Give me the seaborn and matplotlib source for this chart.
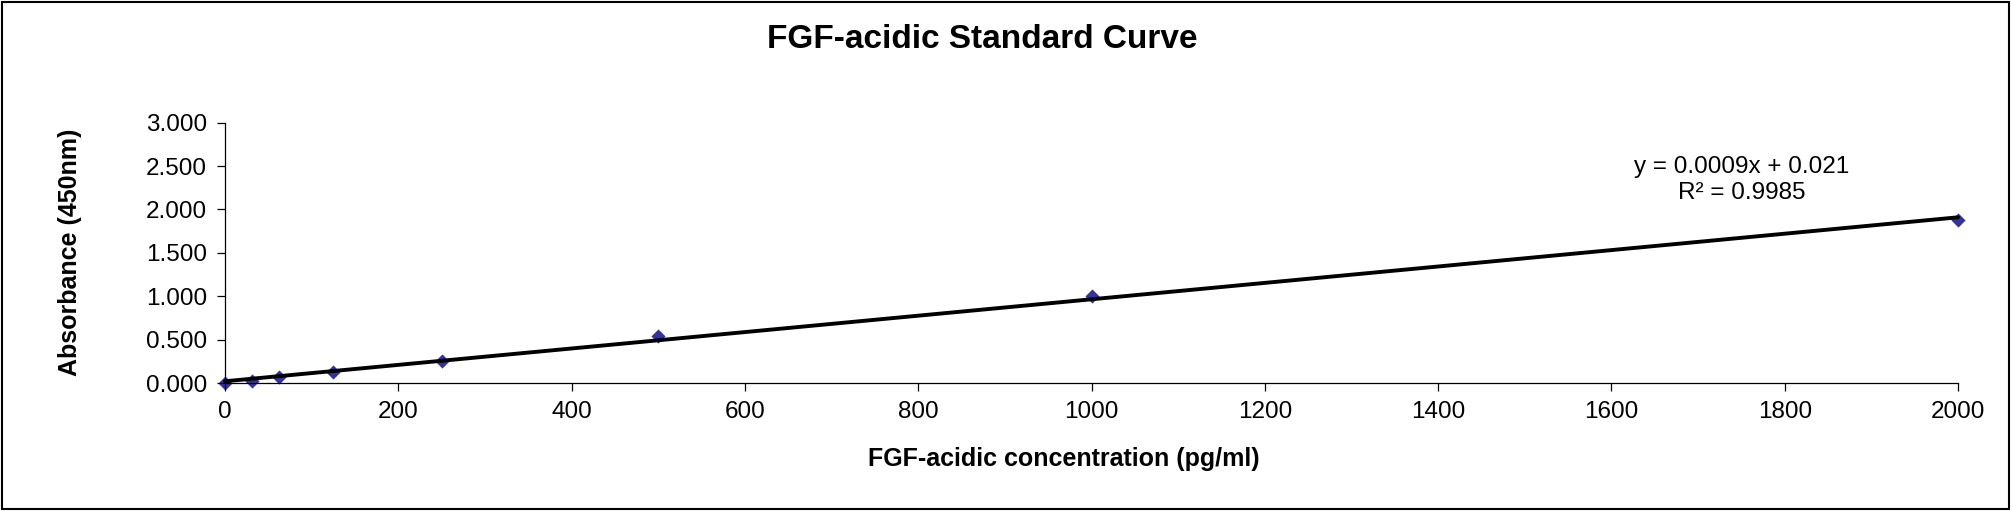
import matplotlib
matplotlib.use("Agg")
import matplotlib.pyplot as plt
import seaborn as sns
import numpy as np
import pandas as pd
from matplotlib.patches import Rectangle
from matplotlib.ticker import FormatStrFormatter, MultipleLocator

concentration = [0, 31.25, 62.5, 125, 250, 500, 1000, 2000]
absorbance = [0.000, 0.027, 0.070, 0.130, 0.256, 0.545, 1.002, 1.879]
title = "FGF-acidic Standard Curve"
xlabel = "FGF-acidic concentration (pg/ml)"
ylabel = "Absorbance (450nm)"
equation = "y = 0.0009x + 0.021\nR² = 0.9985"

sns.set_theme(style="white")
plt.rcParams['font.family'] = ['Liberation Sans', 'DejaVu Sans']
plt.rcParams['text.color'] = 'black'

df = pd.DataFrame({"conc": concentration, "abs": absorbance})

W, H = 2012, 511
fig = plt.figure(figsize=(W / 100, H / 100), dpi=100)
ax = fig.add_axes([225 / W, 1 - 383 / H, (1958 - 225) / W, (383 - 122.7) / H])

sns.regplot(data=df, x="conc", y="abs", ax=ax, ci=None, marker="D",
            scatter_kws={"color": "#000080", "s": 52, "linewidths": 0, "clip_on": False, "zorder": 2},
            line_kws={"color": "black", "linewidth": 2.8, "zorder": 3, "clip_on": False})

ax.set_xlim(0, 2000)
ax.set_ylim(0, 3)
ax.xaxis.set_major_locator(MultipleLocator(200))
ax.yaxis.set_major_locator(MultipleLocator(0.5))
ax.yaxis.set_major_formatter(FormatStrFormatter("%.3f"))
ax.set_xlabel("")
ax.set_ylabel("")
for s in ["top", "right"]:
    ax.spines[s].set_visible(False)
for s in ["left", "bottom"]:
    ax.spines[s].set_color("black")
    ax.spines[s].set_linewidth(0.9)
ax.tick_params(axis="both", which="major", direction="out", length=6, width=0.9,
               color="black", labelsize=17.5, labelcolor="black", pad=7,
               bottom=True, left=True)

fig.text(982 / W, 1 - 40 / H, title, ha="center", va="center", fontsize=24,
         fontweight="bold", color="black")
fig.text(1064 / W, 1 - 459 / H, xlabel, ha="center", va="center", fontsize=18,
         fontweight="bold", color="black")
fig.text(70 / W, 1 - 252 / H, ylabel, ha="center", va="center", fontsize=18,
         fontweight="bold", rotation=90, color="black")
fig.text(1742 / W, 1 - 180 / H, equation, ha="center", va="center", fontsize=17.5,
         linespacing=1.2, color="black")

fig.patches.append(Rectangle((2 / W, 2 / H), (W - 5) / W, (H - 4) / H, transform=fig.transFigure,
                             fill=False, edgecolor="black", linewidth=1.5))

fig.savefig("out.png", dpi=100)
